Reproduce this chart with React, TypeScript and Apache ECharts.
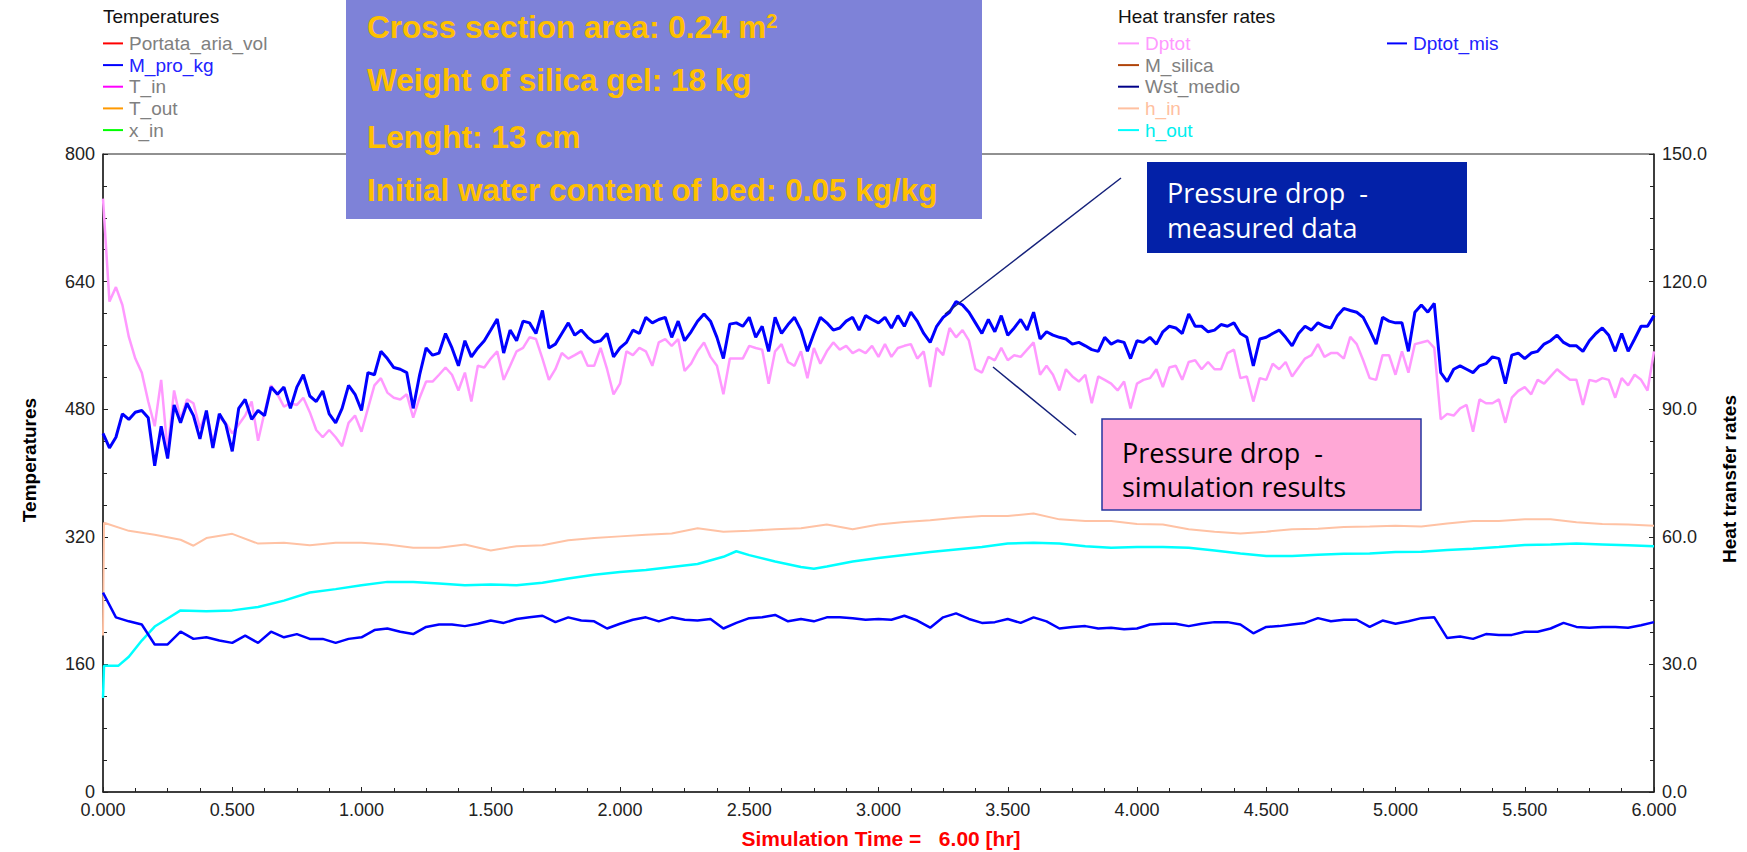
import React, { useEffect, useRef } from "react";
import * as echarts from "echarts";

// ---------------- DATA ----------------
// time step of the sampled series (hours)
const FINE_STEP = 0.025; // Dptot, Dptot_mis
const MED_STEP = 0.05; // M_pro_kg

// Dptot_mis (measured pressure drop) – right axis
const dptotMis = [
  84.3, 80.9, 83.4, 88.9, 87.6, 89.3, 89.7, 88.0, 76.7, 86.0, 78.4,
  91.0, 86.8, 91.4, 88.5, 83.0, 89.7, 80.9, 88.9, 86.4, 80.1,
  90.2, 92.3, 87.6, 89.7, 88.5, 95.2, 93.5, 95.2, 90.2, 95.2,
  98.1, 93.1, 91.8, 94.3, 88.9, 86.8, 90.2, 95.6, 93.5, 89.7,
  98.6, 98.1, 103.6, 101.9, 99.8, 99.4, 98.6, 90.2, 98.1, 104.4,
  102.7, 103.2, 107.8, 104.4, 100.2, 106.1, 102.3, 104.4, 106.1, 108.6,
  111.2, 103.2, 108.6, 106.1, 110.7, 110.3, 107.8, 113.2, 104.4, 105.3,
  107.8, 110.3, 107.4, 108.6, 106.9, 105.7, 106.1, 107.8, 102.3, 104.4,
  105.7, 108.6, 107.8, 111.6, 110.3, 111.1, 111.6, 106.9, 110.7, 106.1,
  108.2, 110.7, 112.4, 110.7, 106.9, 101.9, 110.0, 110.3, 109.5, 111.6,
  106.9, 109.5, 103.6, 111.6, 107.8, 109.9, 111.6, 108.6, 103.6, 107.8,
  111.6, 110.3, 108.6, 109.1, 110.7, 111.6, 108.6, 112.0, 111.1, 110.3,
  111.6, 109.1, 112.0, 109.5, 112.8, 110.7, 107.8, 105.7, 109.5, 111.6,
  112.8, 115.3, 114.5, 112.8, 110.3, 107.8, 111.1, 108.2, 112.0, 107.4,
  109.1, 111.1, 108.6, 112.8, 106.5, 108.2, 107.4, 106.9, 106.5, 105.3,
  105.7, 104.9, 104.0, 103.6, 106.9, 105.3, 106.1, 105.7, 101.9, 106.1,
  105.7, 106.9, 105.3, 108.2, 109.5, 109.1, 107.8, 112.4, 109.5, 109.5,
  108.2, 108.6, 109.9, 109.5, 110.3, 107.8, 106.9, 100.2, 106.5, 106.9,
  107.8, 108.6, 106.9, 104.9, 107.8, 109.5, 108.6, 110.3, 109.5, 109.1,
  112.0, 113.7, 113.2, 112.8, 111.6, 108.6, 105.3, 111.6, 110.7, 110.3,
  110.3, 103.6, 112.8, 114.5, 112.8, 114.9, 98.6, 96.5, 99.4, 100.2,
  99.4, 98.6, 100.2, 100.7, 102.3, 101.9, 96.0, 102.7, 103.2, 101.9,
  103.2, 103.6, 105.3, 106.1, 107.4, 105.7, 104.9, 104.9, 103.6, 106.1,
  107.8, 109.1, 107.4, 103.6, 107.8, 103.6, 106.5, 109.5, 109.5, 112.0,
];

// Dptot (simulated pressure drop) – right axis
const dptot = [
  139.5, 115.3, 118.7, 114.5, 107.0, 101.9, 98.6, 91.8, 86.0, 96.9, 80.1,
  94.4, 87.6, 92.3, 91.4, 85.5, 89.3, 82.2, 88.0, 86.8, 84.3,
  86.4, 88.5, 91.8, 82.6, 89.3, 95.6, 93.5, 90.6, 91.4, 91.0,
  92.7, 89.3, 85.1, 83.4, 85.1, 83.4, 81.3, 86.8, 88.5, 84.7,
  90.2, 95.6, 97.3, 93.9, 92.7, 92.3, 93.5, 88.0, 92.7, 96.5,
  96.5, 98.1, 99.8, 98.1, 94.4, 98.6, 91.8, 100.2, 99.8, 101.9,
  103.6, 96.9, 100.2, 103.6, 104.4, 106.9, 106.5, 101.9, 96.9, 99.4,
  103.2, 101.9, 102.7, 103.6, 100.2, 100.2, 104.4, 99.4, 93.5, 96.0,
  103.6, 102.7, 104.4, 103.6, 100.2, 105.7, 106.5, 104.9, 106.5, 99.0,
  100.7, 103.6, 105.7, 102.3, 100.2, 93.5, 101.9, 101.9, 101.9, 104.9,
  104.4, 104.0, 96.0, 103.6, 105.3, 101.1, 100.2, 103.6, 97.3, 104.4,
  100.7, 103.6, 105.7, 104.0, 104.9, 103.2, 104.0, 103.2, 104.9, 102.3,
  105.3, 102.3, 104.4, 104.9, 105.3, 101.9, 103.6, 95.2, 104.4, 102.7,
  109.1, 106.9, 108.6, 106.1, 99.4, 98.6, 102.3, 101.5, 104.4, 101.5,
  102.7, 102.3, 104.0, 105.7, 98.1, 100.2, 98.1, 94.4, 99.4, 97.7,
  96.5, 98.1, 91.4, 97.7, 96.9, 96.0, 94.4, 96.5, 90.2, 96.0,
  96.9, 97.3, 99.4, 95.2, 99.8, 100.2, 96.9, 101.1, 101.5, 99.4,
  101.1, 99.4, 99.4, 103.2, 104.0, 97.3, 97.7, 91.8, 97.3, 96.9,
  100.7, 99.4, 101.1, 97.7, 99.8, 101.9, 102.7, 105.3, 102.3, 103.2,
  103.2, 101.9, 107.0, 105.3, 101.5, 97.3, 96.9, 102.7, 102.7, 98.1,
  103.6, 98.6, 105.3, 105.7, 106.1, 104.4, 87.6, 88.9, 88.5, 90.2,
  91.0, 84.7, 92.3, 91.4, 91.4, 92.3, 86.8, 92.7, 94.3, 95.2,
  93.5, 96.9, 96.0, 97.7, 99.4, 98.1, 96.9, 96.9, 91.0, 96.9,
  96.5, 97.3, 96.9, 92.7, 97.3, 95.6, 98.1, 96.9, 94.4, 103.6,
];

// M_pro_kg – left axis (Temperatures)
const mProKg = [
  250, 219, 214, 210, 185, 185, 201, 192, 194, 190, 187,
  196, 187, 201, 194, 198, 192, 192, 187, 192, 194,
  203, 205, 201, 198, 207, 210, 210, 208, 211, 215,
  212, 217, 219, 221, 213, 219, 215, 214, 205, 211,
  216, 219, 214, 219, 216, 215, 217, 205, 212, 218,
  219, 222, 214, 217, 214, 219, 219, 218, 216, 217,
  216, 221, 215, 206, 219, 224, 217, 212, 213, 217,
  212, 219, 214, 205, 207, 208, 205, 206, 204, 205,
  210, 211, 211, 208, 211, 213, 213, 210, 199, 207,
  208, 210, 212, 218, 214, 216, 216, 207, 215, 211,
  214, 218, 219, 193, 195, 192, 198, 197, 197, 201,
  201, 205, 212, 207, 206, 207, 207, 206, 209, 213,
];

// h_in – right axis, [time, value]
const hIn = [
  [0, 36.8], [0.004, 63.3], [0.1, 61.4], [0.2, 60.5], [0.3, 59.3], [0.35, 57.9],
  [0.4, 59.7], [0.5, 60.7], [0.6, 58.4], [0.7, 58.6], [0.8, 58.0], [0.9, 58.6],
  [1.0, 58.6], [1.1, 58.2], [1.2, 57.4], [1.3, 57.4], [1.4, 58.2], [1.5, 56.8],
  [1.6, 57.8], [1.7, 58.0], [1.8, 59.2], [1.9, 59.7], [2.0, 60.1], [2.1, 60.5],
  [2.2, 60.8], [2.3, 62.0], [2.4, 61.2], [2.5, 61.4], [2.6, 61.8], [2.7, 62.0],
  [2.8, 62.9], [2.9, 61.8], [3.0, 62.9], [3.1, 63.5], [3.2, 63.9], [3.3, 64.5],
  [3.4, 64.9], [3.5, 64.9], [3.6, 65.5], [3.7, 64.1], [3.8, 63.7], [3.9, 63.7],
  [4.0, 63.0], [4.1, 62.9], [4.2, 61.8], [4.3, 61.2], [4.4, 60.8], [4.5, 61.2],
  [4.6, 61.8], [4.7, 61.9], [4.8, 62.3], [4.9, 62.4], [5.0, 62.6], [5.1, 62.4],
  [5.2, 63.1], [5.3, 63.7], [5.4, 63.7], [5.5, 64.1], [5.6, 64.1], [5.7, 63.4],
  [5.8, 63.0], [5.9, 62.9], [6.0, 62.6],
];

// h_out – right axis, [time, value]
const hOut = [
  [0, 22.1], [0.004, 29.7], [0.06, 29.7], [0.1, 31.8], [0.15, 35.6], [0.2, 38.9],
  [0.25, 40.8], [0.3, 42.7], [0.4, 42.5], [0.5, 42.7], [0.6, 43.5], [0.7, 45.0],
  [0.8, 46.9], [0.9, 47.7], [1.0, 48.6], [1.1, 49.4], [1.2, 49.4], [1.3, 49.0],
  [1.4, 48.6], [1.5, 48.8], [1.6, 48.6], [1.7, 49.2], [1.8, 50.2], [1.9, 51.1],
  [2.0, 51.7], [2.1, 52.2], [2.2, 52.9], [2.3, 53.6], [2.4, 55.3], [2.45, 56.6],
  [2.5, 55.7], [2.6, 54.2], [2.7, 52.9], [2.75, 52.5], [2.8, 53.0], [2.9, 54.2],
  [3.0, 55.0], [3.1, 55.7], [3.2, 56.4], [3.3, 57.0], [3.4, 57.6], [3.5, 58.4],
  [3.6, 58.6], [3.7, 58.4], [3.8, 57.8], [3.9, 57.4], [4.0, 57.6], [4.1, 57.6],
  [4.2, 57.4], [4.3, 56.8], [4.4, 56.1], [4.5, 55.5], [4.6, 55.5], [4.7, 55.8],
  [4.8, 56.0], [4.9, 56.1], [5.0, 56.4], [5.1, 56.5], [5.2, 56.9], [5.3, 57.2],
  [5.4, 57.6], [5.5, 58.1], [5.6, 58.2], [5.7, 58.4], [5.8, 58.2], [5.9, 58.0],
  [6.0, 57.8],
];

// Legend entries
const leftLegendNames = ["Portata_aria_vol", "M_pro_kg", "T_in", "T_out", "x_in"];
const leftLegendLineColors = ["#FF0000", "#0000FF", "#FF00FF", "#FF9900", "#00FF00"];
const leftLegendTextColors = ["#808080", "#2222FF", "#808080", "#808080", "#808080"];
const rightLegendNames = ["Dptot", "M_silica", "Wst_medio", "h_in", "h_out"];
const rightLegendLineColors = ["#FF99FF", "#B0440A", "#000088", "#FFC0A0", "#00FFFF"];
const rightLegendTextColors = ["#FF99FF", "#808080", "#808080", "#FFC0A0", "#00EEEE"];

const infoLines = [
  "Cross section area: 0.24 m{sup|2}",
  "Weight of silica gel: 18 kg",
  "Lenght: 13 cm",
  "Initial water content of bed: 0.05 kg/kg",
];

// ---------------- STYLE ----------------
const W = 1747;
const H = 852;
const GRID = { left: 103, right: 93, top: 154, bottom: 60 };
const FONT = "Liberation Sans, Arial, sans-serif";
const BOX_FONT = "'Open Sans', Lato, sans-serif";

function buildGraphic() {
  const g: any[] = [];
  const rowY = [43.4, 65.1, 86.7, 108.4, 130.1];

  // left legend
  g.push({
    type: "text", x: 103, y: 16.5, z: 100,
    style: { text: "Temperatures", fill: "#111", font: `19px ${FONT}`, verticalAlign: "middle" },
  });
  leftLegendNames.forEach((n, i) => {
    g.push({ type: "line", z: 100, shape: { x1: 103, y1: rowY[i], x2: 123, y2: rowY[i] }, style: { stroke: leftLegendLineColors[i], lineWidth: 2 } });
    g.push({ type: "text", x: 129, y: rowY[i], z: 100, style: { text: n, fill: leftLegendTextColors[i], font: `19px ${FONT}`, verticalAlign: "middle" } });
  });

  // right legend
  g.push({
    type: "text", x: 1118, y: 16.5, z: 100,
    style: { text: "Heat transfer rates", fill: "#111", font: `19px ${FONT}`, verticalAlign: "middle" },
  });
  rightLegendNames.forEach((n, i) => {
    g.push({ type: "line", z: 100, shape: { x1: 1118, y1: rowY[i], x2: 1139, y2: rowY[i] }, style: { stroke: rightLegendLineColors[i], lineWidth: 2 } });
    g.push({ type: "text", x: 1145, y: rowY[i], z: 100, style: { text: n, fill: rightLegendTextColors[i], font: `19px ${FONT}`, verticalAlign: "middle" } });
  });
  g.push({ type: "line", z: 100, shape: { x1: 1387, y1: rowY[0], x2: 1407, y2: rowY[0] }, style: { stroke: "#0000FF", lineWidth: 2 } });
  g.push({ type: "text", x: 1413, y: rowY[0], z: 100, style: { text: "Dptot_mis", fill: "#2222FF", font: `19px ${FONT}`, verticalAlign: "middle" } });

  // info box
  g.push({ type: "rect", z: 110, shape: { x: 346, y: 0, width: 636, height: 219 }, style: { fill: "#7E82D8" } });
  const infoY = [26.5, 79.5, 136.5, 189.5];
  infoLines.forEach((t, i) => {
    g.push({
      type: "text", x: 367, y: infoY[i], z: 111,
      style: {
        text: t, fill: "#FFC000", font: `bold 31.5px ${FONT}`, verticalAlign: "middle",
        rich: { sup: { fill: "#FFC000", font: `bold 20px ${FONT}`, verticalAlign: "top", lineHeight: 20 } },
      },
    });
  });

  // measured-data callout
  g.push({ type: "line", z: 105, shape: { x1: 1121, y1: 178, x2: 945, y2: 314 }, style: { stroke: "#14207A", lineWidth: 1.5 } });
  g.push({ type: "rect", z: 110, shape: { x: 1147, y: 162, width: 320, height: 91 }, style: { fill: "#0321A8" } });
  g.push({ type: "text", x: 1167, y: 192, z: 111, style: { text: "Pressure drop  -", fill: "#FFFFFF", font: `27px ${BOX_FONT}`, verticalAlign: "middle" } });
  g.push({ type: "text", x: 1167, y: 227, z: 111, style: { text: "measured data", fill: "#FFFFFF", font: `27px ${BOX_FONT}`, verticalAlign: "middle" } });

  // simulation-results callout
  g.push({ type: "line", z: 105, shape: { x1: 993, y1: 367, x2: 1076, y2: 435 }, style: { stroke: "#14207A", lineWidth: 1.5 } });
  g.push({ type: "rect", z: 110, shape: { x: 1102, y: 419, width: 319, height: 91 }, style: { fill: "#FFA8D6", stroke: "#2434A0", lineWidth: 1.5 } });
  g.push({ type: "text", x: 1122, y: 452, z: 111, style: { text: "Pressure drop  -", fill: "#000000", font: `27px ${BOX_FONT}`, verticalAlign: "middle" } });
  g.push({ type: "text", x: 1122, y: 486, z: 111, style: { text: "simulation results", fill: "#000000", font: `27px ${BOX_FONT}`, verticalAlign: "middle" } });

  // axis titles
  g.push({ type: "text", x: 29, y: 460, rotation: Math.PI / 2, z: 100, style: { text: "Temperatures", fill: "#000", font: `bold 19px ${FONT}`, align: "center", verticalAlign: "middle" } });
  g.push({ type: "text", x: 1729, y: 479, rotation: Math.PI / 2, z: 100, style: { text: "Heat transfer rates", fill: "#000", font: `bold 19px ${FONT}`, align: "center", verticalAlign: "middle" } });
  g.push({ type: "text", x: 881, y: 838, z: 100, style: { text: "Simulation Time =   6.00 [hr]", fill: "#FF0000", font: `bold 21px ${FONT}`, align: "center", verticalAlign: "middle" } });
  return g;
}

const axisCommon = {
  splitLine: { show: false },
  minorSplitLine: { show: false },
  axisTick: { show: true, inside: true, length: 5, lineStyle: { color: "#222", width: 1 } },
  minorTick: { show: true, splitNumber: 4, length: 4, lineStyle: { color: "#222", width: 1 } },
  axisLine: { show: true, onZero: false, lineStyle: { color: "#222", width: 1.5 } },
};

export default function App() {
  const ref = useRef<HTMLDivElement>(null);
  useEffect(() => {
    if (!ref.current) return;
    const chart = echarts.init(ref.current, undefined, { renderer: "svg" });
    const option: any = {
      animation: false,
      backgroundColor: "#ffffff",
      grid: { ...GRID, show: true, borderColor: "#222", borderWidth: 1, backgroundColor: "#ffffff" },
      xAxis: {
        type: "value", min: 0, max: 6, interval: 0.5,
        ...axisCommon,
        axisLabel: { formatter: (v: number) => v.toFixed(3), fontSize: 18, color: "#222", fontFamily: FONT, margin: 9, showMinLabel: true, showMaxLabel: true },
      },
      yAxis: [
        {
          type: "value", position: "left", min: 0, max: 800, interval: 160,
          ...axisCommon,
          axisLabel: { fontSize: 18, color: "#222", fontFamily: FONT, margin: 8 },
        },
        {
          type: "value", position: "right", min: 0, max: 150, interval: 30,
          ...axisCommon,
          axisLabel: { formatter: (v: number) => v.toFixed(1), fontSize: 18, color: "#222", fontFamily: FONT, margin: 8 },
        },
      ],
      series: [
        { name: "h_in", type: "line", yAxisIndex: 1, showSymbol: false, data: hIn, lineStyle: { color: "#FFC2A4", width: 2 }, itemStyle: { color: "#FFC2A4" } },
        { name: "h_out", type: "line", yAxisIndex: 1, showSymbol: false, data: hOut, lineStyle: { color: "#00FFFF", width: 2.5 }, itemStyle: { color: "#00FFFF" } },
        { name: "Dptot", type: "line", yAxisIndex: 1, showSymbol: false, data: dptot.map((v, i) => [+(i * FINE_STEP).toFixed(3), v]), lineStyle: { color: "#FF99FF", width: 2.5 }, itemStyle: { color: "#FF99FF" } },
        { name: "M_pro_kg", type: "line", yAxisIndex: 0, showSymbol: false, data: mProKg.map((v, i) => [+(i * MED_STEP).toFixed(3), v]), lineStyle: { color: "#0000FF", width: 2.5 }, itemStyle: { color: "#0000FF" } },
        { name: "Dptot_mis", type: "line", yAxisIndex: 1, showSymbol: false, data: dptotMis.map((v, i) => [+(i * FINE_STEP).toFixed(3), v]), lineStyle: { color: "#0000FF", width: 3 }, itemStyle: { color: "#0000FF" } },
      ],
      graphic: buildGraphic(),
    };
    chart.setOption(option);
    return () => chart.dispose();
  }, []);
  return <div ref={ref} style={{ position: "absolute", left: 0, top: 0, width: W, height: H }} />;
}
